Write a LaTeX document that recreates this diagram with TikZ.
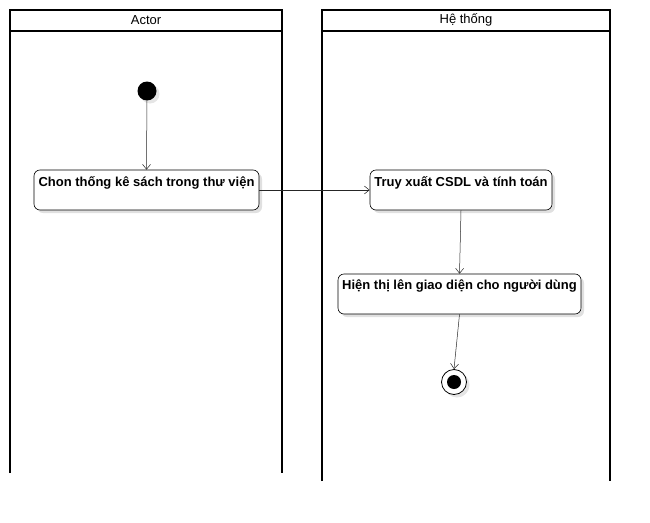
\documentclass[tikz,border=0pt]{standalone}
\usepackage{fontspec}
\setmainfont{Liberation Sans}
\usetikzlibrary{arrows.meta,shadows,positioning}

\tikzset{
  lane/.style={line width=1.6pt},
  lanetext/.style={font=\fontsize{13}{15}\selectfont},
  actbox/.style={draw, rounded corners=6pt, fill=white, line width=0.6pt,
    drop shadow={shadow xshift=3pt, shadow yshift=-3pt, fill=black!12, opacity=1},
    minimum height=40pt, inner sep=0pt},
  acttext/.style={font=\bfseries\fontsize{13}{15}\selectfont, anchor=north, yshift=-3pt},
  flow/.style={draw=black!85, line width=0.5pt, -{Straight Barb[length=5pt,width=8pt]}},
}

\begin{document}
\begin{tikzpicture}[x=1pt,y=-1pt]
\useasboundingbox (0,0) rectangle (650,522);
% lanes
\draw[lane] (10,473)--(10,10)--(282,10)--(282,473);
\draw[lane] (10,31)--(282,31);
\node (laneA) [lanetext] at (146,20) {Actor};
\draw[lane] (322,481)--(322,10)--(610,10)--(610,481);
\draw[lane] (322,31)--(610,31);
\node (laneB) [lanetext] at (466,20) {Hệ thống};
% start / end
\node (start) [circle, fill=black, minimum size=19pt, inner sep=0pt,
  drop shadow={shadow xshift=3pt, shadow yshift=-3pt, fill=black!10, opacity=1}] at (147,91) {};
\node (stop) [circle, draw, fill=white, line width=0.8pt, minimum size=25pt, inner sep=0pt,
  drop shadow={shadow xshift=3pt, shadow yshift=-3pt, fill=black!10, opacity=1}] at (454,382) {};
\node (stopin) [circle, fill=black, minimum size=14pt, inner sep=0pt] at (stop) {};
% actions
\node (chon) [actbox, minimum width=225pt,
  label={[acttext]north:Chon thống kê sách trong thư viện}] at (146.5,190) {};
\node (truy) [actbox, minimum width=182pt,
  label={[acttext]north:Truy xuất CSDL và tính toán}] at (461,190) {};
\node (hien) [actbox, minimum width=243pt,
  label={[acttext]north:Hiện thị lên giao diện cho người dùng}] at (459.5,294) {};
% flows
\draw[flow] (start) -- (chon.north);
\draw[flow] (chon.east) -- (truy.west);
\draw[flow] (truy.south) -- (hien.north);
\draw[flow] (hien.south) -- (stop.north);
\end{tikzpicture}
\end{document}
